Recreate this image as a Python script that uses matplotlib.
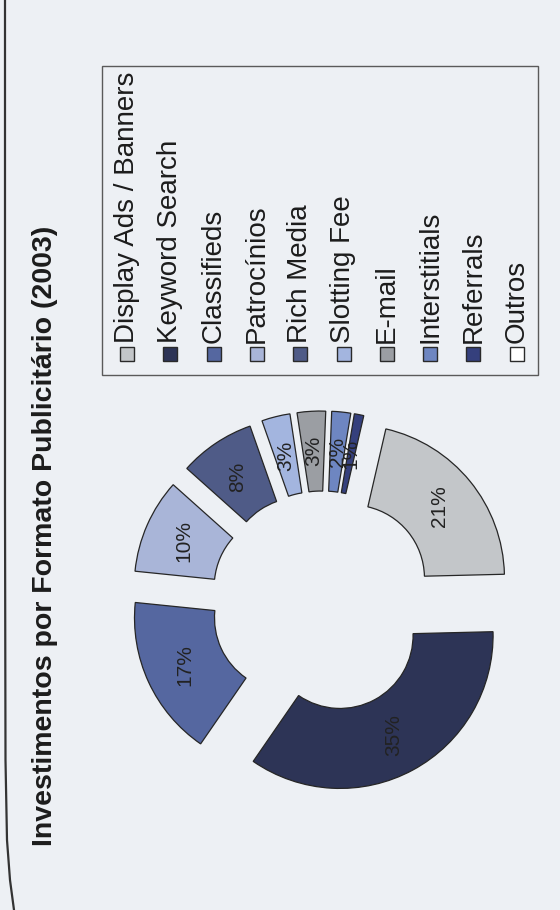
import matplotlib
matplotlib.use("Agg")
import matplotlib.pyplot as plt
from matplotlib.patches import Rectangle

plt.rcParams['font.family'] = ['Liberation Sans', 'DejaVu Sans']

# investimento por formato publicitario, 2003 (%)
formats = ['Display Ads / Banners', 'Keyword Search', 'Classifieds', 'Patrocínios',
           'Rich Media', 'Slotting Fee', 'E-mail', 'Interstitials', 'Referrals', 'Outros']
shares = [21, 35, 17, 10, 8, 3, 3, 2, 1, 0]
colors = ['#c3c6c9', '#2d3456', '#5567a0', '#a9b5d8', '#4f5b87',
          '#a3b5df', '#9b9ea3', '#6e86c1', '#35407d', '#ffffff']
title = 'Investimentos por Formato Publicitário (2003)'

W, H = 560, 910
bg = '#edf0f4'

fig = plt.figure(figsize=(W / 100, H / 100), dpi=100, facecolor=bg)
ax = fig.add_axes([0, 0, 1, 1])
ax.set_facecolor(bg)


def Y(y):
    # page is laid out top-down, axes run bottom-up
    return H - y


# donut (page is turned sideways, so everything reads bottom-to-top)
pie_vals = [v for v in shares if v > 0]
pie_cols = [c for v, c in zip(shares, colors) if v > 0]
R = 153
ring = 80
wedges, texts, autotexts = ax.pie(
    pie_vals, colors=pie_cols, center=(322, Y(602)), radius=R,
    explode=[38] * len(pie_vals), startangle=77, counterclock=False,
    wedgeprops=dict(width=ring, edgecolor='#262626', linewidth=0.9),
    autopct=lambda p: '%d%%' % round(p) if p > 0 else '',
    pctdistance=(R - ring / 2) / R,
    textprops=dict(fontsize=15, color='#222222'))
for t in autotexts:
    t.set_rotation(90)

ax.set_xlim(0, W)
ax.set_ylim(0, H)
ax.set_aspect('equal')
ax.axis('off')

# title
ax.text(45, Y(846), title, rotation=90, ha='center', va='bottom',
        fontsize=20.5, fontweight='bold', color='#1c1c1c')

# legend box drawn by hand, entries stacked left to right
ax.add_patch(Rectangle((102, Y(375)), 436, 309, facecolor='none',
                       edgecolor='#5a5a5a', linewidth=1.0))
for i, (name, col) in enumerate(zip(formats, colors)):
    x = 127 + 43.3 * i
    ax.add_patch(Rectangle((x - 7, Y(361)), 14, 14, facecolor=col,
                           edgecolor='#2a2a2a', linewidth=1.0))
    ax.text(x, Y(343), name, rotation=90, ha='center', va='bottom',
            fontsize=20, color='#1c1c1c')

# binding edge of the page
ax.plot([5, 5, 5.5, 7, 10, 14], [Y(0), Y(500), Y(760), Y(840), Y(880), Y(910)],
        color='#333333', linewidth=1.6)

fig.savefig('out.png', dpi=100, facecolor=bg)
